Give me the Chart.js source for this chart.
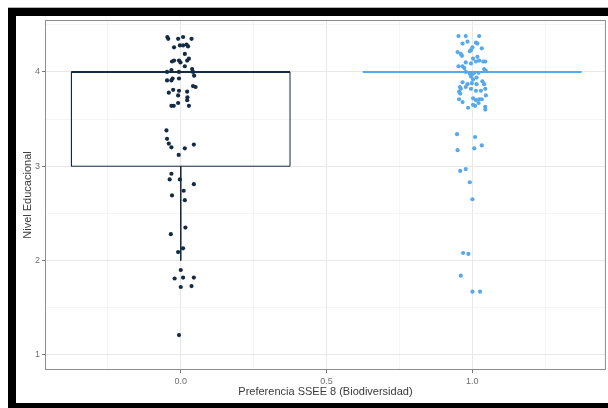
<!DOCTYPE html>
<html>
<head>
<meta charset="utf-8">
<script src="https://cdn.jsdelivr.net/npm/chart.js@4.4.1/dist/chart.umd.min.js"></script>
<style>
  html, body { margin: 0; padding: 0; background: #fff; overflow: hidden; }
  #wrap { position: relative; width: 608px; height: 408px; overflow: hidden; background: #fff; }
  #chart { display: block; }
  .bar { position: absolute; background: #000; pointer-events: none; }
  #gline { position: absolute; left: 8px; top: 7px; width: 600px; height: 1px; background: #b4b4b4; }
</style>
</head>
<body>
<div id="wrap">
  <canvas id="chart" width="608" height="408"></canvas>
  <div id="gline"></div>
  <div class="bar" style="left:8px; top:8px; width:600px; height:8px;"></div>
  <div class="bar" style="left:8px; top:8px; width:8px; height:400px;"></div>
  <div class="bar" style="left:8px; top:403px; width:600px; height:5px;"></div>
</div>
<script>
// jittered points, group 0
const x0 = [-0.046, -0.043, -0.009, 0.008, 0.037, -0.023, -0.003, 0.008, 0.020, 0.025, 0.014, 0.028, 0.022,
  -0.030, -0.023, -0.006, -0.001, 0.014, -0.047, -0.032, -0.006, 0.039, 0.042, 0.046, -0.047, -0.032, -0.028,
  -0.006, 0.042, 0.051, -0.041, -0.026, -0.006, -0.009, 0.022, 0.023, 0.022, -0.032, -0.024, -0.009, 0.028,
  -0.049, -0.047, -0.041, -0.032, 0.014, 0.045, -0.007, -0.032, -0.038, -0.003, 0.045, 0.010, -0.030, 0.014,
  0.016, -0.034, -0.009, 0.008, 0.000, -0.021, 0.008, 0.045, 0.000, 0.037, -0.006];
const y0 = [4.37, 4.35, 4.35, 4.37, 4.35, 4.26, 4.28, 4.28, 4.29, 4.27, 4.19, 4.14, 4.12,
  4.11, 4.12, 4.12, 4.10, 4.06, 4.00, 4.02, 4.00, 4.03, 4.00, 3.96, 3.91, 3.91, 3.93,
  3.93, 3.85, 3.84, 3.78, 3.81, 3.80, 3.75, 3.79, 3.73, 3.70, 3.64, 3.64, 3.67, 3.64,
  3.38, 3.29, 3.24, 3.20, 3.19, 3.23, 3.12, 2.92, 2.86, 2.86, 2.81, 2.74, 2.69, 2.64,
  2.35, 2.28, 2.09, 2.13, 1.90, 1.81, 1.82, 1.82, 1.72, 1.73, 1.21];

// jittered points, group 1
const x1 = [0.953, 0.978, 1.024, 0.967, 0.984, 1.013, 1.018, 1.001, 0.996, 0.992, 1.033, 0.950, 0.961,
  0.965, 1.003, 1.018, 1.024, 1.038, 1.045, 1.013, 0.978, 0.996, 0.953, 0.967, 0.973, 1.041, 1.047,
  0.978, 0.992, 0.999, 1.007, 1.022, 0.996, 1.003, 1.015, 0.967, 0.984, 0.999, 1.015, 1.035, 1.041,
  0.958, 0.961, 0.978, 0.996, 1.030, 1.045, 1.013, 0.955, 0.959, 1.047, 0.955, 0.967, 1.003, 1.013,
  1.024, 1.033, 1.003, 1.010, 1.022, 0.986, 1.045, 1.045, 0.948, 1.010, 0.950, 1.007, 1.033, 0.959,
  0.978, 0.992, 1.001, 0.969, 0.987, 0.961, 1.001, 1.027];
const y1 = [4.38, 4.38, 4.38, 4.30, 4.32, 4.31, 4.30, 4.26, 4.23, 4.22, 4.25, 4.21, 4.19,
  4.17, 4.14, 4.16, 4.12, 4.11, 4.11, 4.11, 4.10, 4.09, 4.06, 4.06, 4.04, 4.03, 4.01,
  4.00, 3.98, 3.97, 3.99, 3.99, 3.95, 3.92, 3.94, 3.89, 3.87, 3.88, 3.87, 3.90, 3.87,
  3.84, 3.82, 3.84, 3.82, 3.80, 3.82, 3.80, 3.79, 3.77, 3.75, 3.71, 3.68, 3.72, 3.70,
  3.71, 3.71, 3.65, 3.64, 3.67, 3.62, 3.63, 3.60, 3.34, 3.31, 3.17, 3.19, 3.22, 2.95,
  2.97, 2.83, 2.65, 2.08, 2.07, 1.84, 1.67, 1.67];

// boxplot stats per group
const boxGroups = [0, 1];
const boxLower = [2, 4];
const boxQ1 = [3, 4];
const boxMedian = [4, 4];
const boxQ3 = [4, 4];
const boxUpper = [4, 4];

const xTicks = [-0.25, 0, 0.25, 0.5, 0.75, 1, 1.25];
const yTicks = [1, 1.5, 2, 2.5, 3, 3.5, 4, 4.5];

const groupColors = ['#132B43', '#56A9EA'];
const boxHalf = 0.375;
const FONT = "'Liberation Sans', Arial, sans-serif";

function pts(xs, ys) {
  return xs.map((x, i) => ({ x: x, y: ys[i] }));
}

// rectangle + whiskers, with null gaps between pieces
function boxOutline(i) {
  const c = boxGroups[i], l = c - boxHalf, r = c + boxHalf;
  return [
    { x: l, y: boxQ1[i] }, { x: r, y: boxQ1[i] }, { x: r, y: boxQ3[i] }, { x: l, y: boxQ3[i] }, { x: l, y: boxQ1[i] },
    { x: c, y: null },
    { x: c, y: boxQ1[i] }, { x: c, y: boxLower[i] },
    { x: c, y: null },
    { x: c, y: boxQ3[i] }, { x: c, y: boxUpper[i] }
  ];
}
function boxMedianLine(i) {
  const c = boxGroups[i];
  return [{ x: c - boxHalf, y: boxMedian[i] }, { x: c + boxHalf, y: boxMedian[i] }];
}

const lineSet = (data, color, w) => ({
  data: data, showLine: true, borderColor: color, borderWidth: w,
  pointRadius: 0, pointHoverRadius: 0, spanGaps: false, tension: 0
});

const datasets = [
  { data: pts(x0, y0), backgroundColor: groupColors[0], pointRadius: 2.1, pointBorderWidth: 0, pointHoverRadius: 0 },
  { data: pts(x1, y1), backgroundColor: groupColors[1], pointRadius: 2.1, pointBorderWidth: 0, pointHoverRadius: 0 }
];
boxGroups.forEach((g, i) => {
  datasets.push(lineSet(boxMedianLine(i), groupColors[i], 2));
  datasets.push(lineSet(boxOutline(i), groupColors[i], 1));
});

// ggplot-like panel border
const panelBorder = {
  id: 'panelBorder',
  afterDraw(chart) {
    const { ctx, chartArea: a } = chart;
    ctx.save();
    ctx.strokeStyle = '#8c8c8c';
    ctx.lineWidth = 1;
    ctx.strokeRect(a.left + 0.5, a.top + 0.5, a.right - a.left - 1, a.bottom - a.top - 1);
    ctx.restore();
  }
};

const isMajorX = v => Math.abs(v * 2 - Math.round(v * 2)) < 1e-9;
const isMajorY = v => Math.abs(v - Math.round(v)) < 1e-9;

new Chart(document.getElementById('chart'), {
  type: 'scatter',
  data: { datasets: datasets },
  plugins: [panelBorder],
  options: {
    responsive: false,
    animation: false,
    layout: { padding: { top: 20, right: 0, left: 0, bottom: 0 } },
    plugins: { legend: { display: false }, tooltip: { enabled: false } },
    scales: {
      x: {
        type: 'linear', min: -0.4658, max: 1.4589,
        afterBuildTicks: s => { s.ticks = xTicks.map(v => ({ value: v })); },
        afterFit: s => { s.height = 38; },
        border: { display: false },
        grid: {
          color: c => isMajorX(c.tick.value) ? '#e8e8e8' : '#f1f1f1',
          lineWidth: c => isMajorX(c.tick.value) ? 1 : 0.7,
          tickLength: 3,
          tickColor: c => isMajorX(c.tick.value) ? '#777' : 'rgba(0,0,0,0)'
        },
        ticks: {
          autoSkip: false, maxRotation: 0, padding: 3,
          color: '#6e6e6e', font: { family: FONT, size: 9 },
          callback: v => isMajorX(v) ? v.toFixed(1) : ''
        },
        title: {
          display: true, text: 'Preferencia SSEE 8 (Biodiversidad)',
          color: '#3a3a3a', font: { family: FONT, size: 11 },
          padding: { top: 0, bottom: 9 }
        }
      },
      y: {
        type: 'linear', min: 0.84, max: 4.55,
        afterBuildTicks: s => { s.ticks = yTicks.map(v => ({ value: v })); },
        afterFit: s => { s.width = 45; },
        border: { display: false },
        grid: {
          color: c => isMajorY(c.tick.value) ? '#e8e8e8' : '#f1f1f1',
          lineWidth: c => isMajorY(c.tick.value) ? 1 : 0.7,
          tickLength: 3,
          tickColor: c => isMajorY(c.tick.value) ? '#777' : 'rgba(0,0,0,0)'
        },
        ticks: {
          padding: 2,
          color: '#6e6e6e', font: { family: FONT, size: 9 },
          callback: v => isMajorY(v) ? String(v) : ''
        },
        title: {
          display: true, text: 'Nivel Educacional',
          color: '#3a3a3a', font: { family: FONT, size: 11 },
          padding: { top: 21, bottom: 0 }
        }
      }
    }
  }
});
</script>
</body>
</html>
